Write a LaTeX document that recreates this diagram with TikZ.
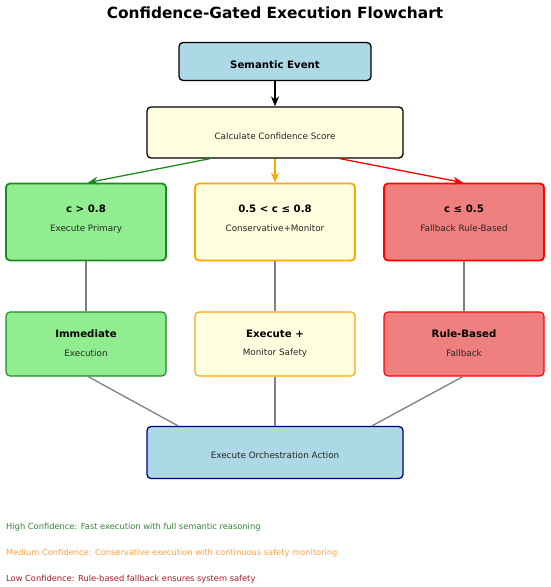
\documentclass[tikz,border=0pt]{standalone}
\usepackage{fontspec}
\setmainfont{DejaVu Sans}
\usetikzlibrary{arrows.meta}
\definecolor{lgreen}{HTML}{90EE90}
\definecolor{dgreen}{HTML}{1E8A1E}
\definecolor{lyellow}{HTML}{FFFFE0}
\definecolor{orangeb}{HTML}{FFA500}
\definecolor{lcoral}{HTML}{F08080}
\definecolor{redb}{HTML}{FF0000}
\definecolor{lblue}{HTML}{ADD8E6}
\definecolor{navyb}{HTML}{000080}
\definecolor{grayl}{HTML}{808080}
\definecolor{legg}{HTML}{338333}
\definecolor{lego}{HTML}{FFA040}
\definecolor{legr}{HTML}{A21A2A}
\tikzset{
  box/.style={draw, rounded corners=4pt, inner sep=0pt},
  boldtxt/.style={font=\fontsize{10.2}{12}\selectfont\bfseries, inner sep=0pt},
  normtxt/.style={font=\fontsize{8.8}{10}\selectfont, inner sep=0pt, text=black!85},
  legtxt/.style={font=\fontsize{8.3}{10}\selectfont, inner sep=0pt, anchor=west},
  conn/.style={draw=grayl, line width=1.3pt},
  arr/.style={line width=1.3pt, -{Stealth[length=10pt,width=8pt]}}
}
\begin{document}
\begin{tikzpicture}[x=1pt,y=-1pt]
\useasboundingbox (0,0) rectangle (550,587);
% title
\node[font=\fontsize{15.4}{18}\selectfont\bfseries, inner sep=0pt] (title) at (275,12.5) {Confidence-Gated Execution Flowchart};
% top boxes
\node[box, fill=lblue, line width=1.3pt, minimum width=192pt, minimum height=38pt] (sem) at (275,61.5) {};
\node[boldtxt] (semt) at (275,64.7) {Semantic Event};
\node[box, fill=lyellow, line width=1.3pt, minimum width=256pt, minimum height=51pt] (calc) at (275,132.5) {};
\node[normtxt] (calct) at (275,136) {Calculate Confidence Score};
% row 1
\node[box, fill=lgreen, draw=dgreen, line width=1.8pt, minimum width=160pt, minimum height=77pt] (g1) at (86,222) {};
\node[boldtxt] (g1a) at (86,209) {c > 0.8};
\node[normtxt] (g1b) at (86,228.7) {Execute Primary};
\node[box, fill=lyellow, draw=orangeb, line width=1.8pt, minimum width=160pt, minimum height=77pt] (y1) at (275,222) {};
\node[boldtxt] (y1a) at (275,209) {0.5 < c ≤ 0.8};
\node[normtxt] (y1b) at (275,228.7) {Conservative+Monitor};
\node[box, fill=lcoral, draw=redb, line width=1.8pt, minimum width=160pt, minimum height=77pt] (r1) at (464,222) {};
\node[boldtxt] (r1a) at (464,209) {c ≤ 0.5};
\node[normtxt] (r1b) at (464,228.7) {Fallback Rule-Based};
% row 2
\node[box, fill=lgreen, draw=dgreen, line width=1.1pt, minimum width=160pt, minimum height=64pt] (g2) at (86,344) {};
\node[boldtxt] (g2a) at (86,333.7) {Immediate};
\node[normtxt] (g2b) at (86,353.3) {Execution};
\node[box, fill=lyellow, draw=orangeb, line width=1.1pt, minimum width=160pt, minimum height=64pt] (y2) at (275,344) {};
\node[boldtxt] (y2a) at (275,333.7) {Execute +};
\node[normtxt] (y2b) at (275,353.3) {Monitor Safety};
\node[box, fill=lcoral, draw=redb, line width=1.1pt, minimum width=160pt, minimum height=64pt] (r2) at (464,344) {};
\node[boldtxt] (r2a) at (464,333.7) {Rule-Based};
\node[normtxt] (r2b) at (464,353.3) {Fallback};
% bottom
\node[box, fill=lblue, draw=navyb, line width=1.3pt, minimum width=256pt, minimum height=52pt] (exe) at (275,452.5) {};
\node[normtxt] (exet) at (275,455) {Execute Orchestration Action};
% arrows
\draw[arr, black] (sem.south) -- (calc.north);
\draw[arr, dgreen] (calc.south -| 210,0) -- (g1.north -| 88,0);
\draw[arr, orangeb] (calc.south) -- (y1.north);
\draw[arr, redb] (calc.south -| 340,0) -- (r1.north -| 463,0);
% gray connectors
\draw[conn] (g1.south) -- (g2.north);
\draw[conn] (y1.south) -- (y2.north);
\draw[conn] (r1.south) -- (r2.north);
\draw[conn] (g2.south -| 88,0) -- (exe.north -| 178,0);
\draw[conn] (y2.south) -- (exe.north);
\draw[conn] (r2.south -| 463,0) -- (exe.north -| 372,0);
% legend
\node[legtxt, text=legg] (l1) at (6,527) {High Confidence: Fast execution with full semantic reasoning};
\node[legtxt, text=lego] (l2) at (6,553) {Medium Confidence: Conservative execution with continuous safety monitoring};
\node[legtxt, text=legr] (l3) at (6,579) {Low Confidence: Rule-based fallback ensures system safety};
\end{tikzpicture}
\end{document}
